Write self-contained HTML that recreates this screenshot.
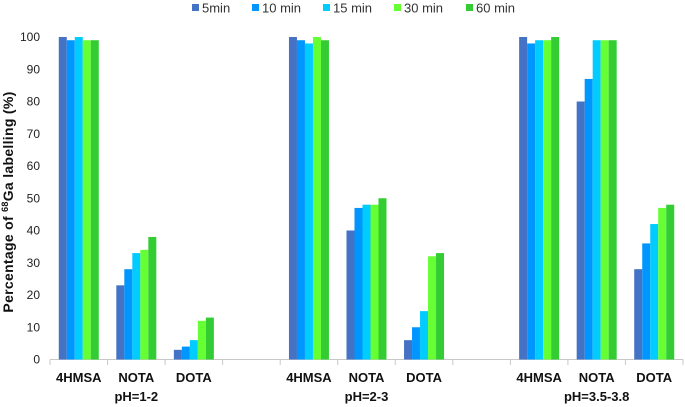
<!DOCTYPE html>
<html><head><meta charset="utf-8"><style>
html,body{margin:0;padding:0;background:#fff;}
svg{display:block;font-family:"Liberation Sans",sans-serif;}
</style></head><body>
<svg id="chart" width="685" height="407"></svg>
<script>
const seriesNames=["5min","10 min","15 min","30 min","60 min"];
const colors=["#4472C4","#0096FF","#00CCFF","#66FF33","#33CC33"];
const groups=["pH=1-2","pH=2-3","pH=3.5-3.8"];
const categories=["4HMSA","NOTA","DOTA"];
const g1=[[100,99,100,99,99],[23,28,33,34,38],[3,4,6,12,13]];
const g2=[[100,99,98,100,99],[40,47,48,48,50],[6,10,15,32,33]];
const g3=[[100,98,99,99,100],[80,87,99,99,99],[28,36,42,47,48]];
const yTicks=[0,10,20,30,40,50,60,70,80,90,100];
const legendX=[192,252,323,394,466];

const svg=document.getElementById('chart');
const NS='http://www.w3.org/2000/svg';
function mk(t,a){const e=document.createElementNS(NS,t);for(const k in a)e.setAttribute(k,a[k]);svg.appendChild(e);return e;}
const x0=50,x1=683,nSlots=11,slotW=(x1-x0)/nSlots;
const y=v=>359.5-(v/100)*322.5;
const slotX=i=>x0+i*slotW;
let ax=mk('line',{x1:x0,x2:x1,y1:359.5,y2:359.5,stroke:'#c8c8c8','stroke-width':1});


for(let i=0;i<=nSlots;i++){
  let t=mk('line',{x1:slotX(i),x2:slotX(i),y1:359.5,y2:365,stroke:'#c8c8c8'});
  
  
}
yTicks.forEach(v=>{
  let t=mk('text',{x:40,y:y(v)+4,'text-anchor':'end','font-size':12,fill:'#222'});
  t.textContent=v;
  
  
});
const data=[g1,g2,g3];
data.forEach((grp,gi)=>{
  grp.forEach((vals,ci)=>{
    const slot=gi*4+ci;
    const bx=slotX(slot)+(slotW-40)/2;
    vals.forEach((v,si)=>{
      let r=mk('rect',{x:bx+si*8,y:y(v),width:8,height:359.5-y(v),fill:colors[si]});
      
      
    });
    let l=mk('text',{x:slotX(slot)+slotW/2,y:382,'text-anchor':'middle','font-size':13,'font-weight':'bold',fill:'#111'});
    l.textContent=categories[ci];
    
    
  });
  let p=mk('text',{x:slotX(gi*4+1)+slotW/2,y:401,'text-anchor':'middle','font-size':13,'font-weight':'bold',fill:'#111'});
  p.textContent=groups[gi];
  
  
});
seriesNames.forEach((n,i)=>{
  let s=mk('rect',{x:legendX[i],y:4,width:7,height:7,fill:colors[i]});
  
  
  let t=mk('text',{x:legendX[i]+10,y:12.5,'font-size':13,fill:'#333'});
  t.textContent=n;
  
  
});
let yt=mk('text',{transform:'translate(13,202) rotate(-90)','text-anchor':'middle','font-size':14,'font-weight':'bold','letter-spacing':'0.3',fill:'#111'});
yt.innerHTML='Percentage of  <tspan font-size="9" dy="-5">68</tspan><tspan dy="5">Ga labelling  (%)</tspan>';


</script>
</body></html>
